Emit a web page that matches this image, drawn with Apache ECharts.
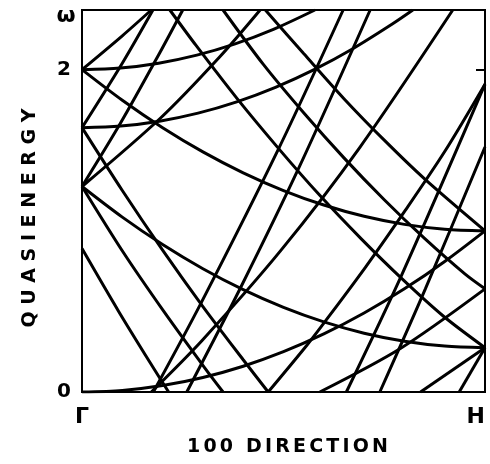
<!DOCTYPE html>
<html>
<head>
<meta charset="utf-8">
<script src="https://cdn.jsdelivr.net/npm/echarts@6/dist/echarts.min.js"></script>
<style>html,body{margin:0;padding:0;background:#fff}#c{width:490px;height:464px}</style>
</head>
<body>
<div id="c"></div>
<script>
// Axis / labels
const xTickLabels = ['Γ', 'H'];
const yTickLabels = ['0', '2'];
const yTopLabel = 'ω';
const omega = 2.37;           // quasienergy period (top of the box)
const xTitle = '100 DIRECTION';
const yTitle = 'QUASIENERGY';
const spaced = s => s.split('').join('\u2006');

// Folded band segments [k, quasienergy]
const bandA  = [[0,0],[0.1,0.01],[0.2,0.04],[0.3,0.09],[0.4,0.16],[0.5,0.25],[0.6,0.36],[0.7,0.49],[0.8,0.64],[0.9,0.81],[1,1]];
const bandB  = [[0,2],[0.1,1.81],[0.2,1.64],[0.3,1.49],[0.4,1.36],[0.5,1.25],[0.6,1.16],[0.7,1.09],[0.8,1.04],[0.9,1.01],[1,1]];
const bandC0 = [[0,2],[0.1,2.21],[0.172,2.37]];
const bandC1 = [[0.172,0],[0.298,0.32],[0.494,0.88],[0.69,1.52],[0.92,2.37]];
const bandC2 = [[0.936,0],[1,0.275]];
const bandD0 = [[0,2],[0.095,2.01],[0.19,2.04],[0.285,2.09],[0.38,2.16],[0.475,2.25],[0.578,2.37]];
const bandD1 = [[0.59,0],[0.79,0.27],[1,0.64]];
const bandE1 = [[0,1.64],[0.1,1.25],[0.2,0.88],[0.3,0.53],[0.4,0.2],[0.462,0]];
const bandE0 = [[0.455,2.37],[0.55,2.1],[0.65,1.82],[0.75,1.5625],[0.85,1.3225],[1,1]];
const bandF1 = [[0,1.64],[0.1,2.04],[0.176,2.37]];
const bandF2 = [[0.177,0],[0.295,0.55],[0.488,1.51],[0.648,2.37]];
const bandF3 = [[0.656,0],[0.794,0.73],[1,1.91]];
const bandG1 = [[0,1.64],[0.096,1.65],[0.192,1.68],[0.288,1.73],[0.384,1.8],[0.48,1.89],[0.576,2.0],[0.672,2.13],[0.768,2.28],[0.821,2.37]];
const bandG2 = [[0.84,0],[1,0.275]];
const bandH2 = [[0,1.275],[0.1015,0.87],[0.203,0.5],[0.3045,0.15],[0.35,0]];
const bandH1 = [[0.35,2.37],[0.45,2.0325],[0.55,1.7325],[0.65,1.4525],[0.75,1.1925],[0.85,0.9525],[0.95,0.7325],[1,0.64]];
const bandI2 = [[0,1.275],[0.096,1.67],[0.192,2.1],[0.25,2.37]];
const bandI3 = [[0.26,0],[0.394,0.65],[0.538,1.39],[0.715,2.37]];
const bandI4 = [[0.739,0],[0.852,0.64],[1,1.52]];
const bandJ  = [[0,1.275],[0.1,1.085],[0.2,0.915],[0.3,0.765],[0.4,0.635],[0.5,0.525],[0.6,0.435],[0.7,0.365],[0.8,0.315],[0.9,0.285],[1,0.275]];
const bandK2 = [[0,1.275],[0.195,1.7],[0.342,2.08],[0.442,2.37]];
const bandK3 = [[0.462,0],[0.558,0.29],[0.607,0.45],[0.705,0.78],[0.803,1.13],[0.902,1.5],[1,1.91]];
const bandL3 = [[0,0.89],[0.091,0.5],[0.182,0.13],[0.215,0]];
const bandL2 = [[0.218,2.37],[0.283,2.15],[0.385,1.82],[0.488,1.51],[0.59,1.22],[0.693,0.95],[0.795,0.7],[0.897,0.47],[1,0.275]];

const segments = [bandA,bandB,bandC0,bandC1,bandC2,bandD0,bandD1,bandE1,bandE0,
  bandF1,bandF2,bandF3,bandG1,bandG2,bandH2,bandH1,bandI2,bandI3,bandI4,bandJ,
  bandK2,bandK3,bandL3,bandL2];

const chart = echarts.init(document.getElementById('c'), null, {renderer:'canvas'});
const font = 'DejaVu Sans';
const option = {
  backgroundColor: '#fff',
  animation: false,
  grid: {left: 82, right: 5, top: 10, bottom: 72, show: true, borderColor: '#000', borderWidth: 2},
  xAxis: {
    type: 'value', min: 0, max: 1, interval: 1,
    axisLine: {show: true, lineStyle: {color: '#000', width: 2}},
    axisTick: {show: false},
    splitLine: {show: false},
    axisLabel: {
      color: '#000', fontFamily: font, fontSize: 22, fontWeight: 'bold', margin: 14,
      alignMaxLabel: 'right',
      formatter: v => (v === 0 ? xTickLabels[0] : (v === 1 ? xTickLabels[1] : ''))
    },
    name: spaced(xTitle), nameLocation: 'middle', nameGap: 46,
    nameTextStyle: {color: '#000', fontFamily: font, fontSize: 19, fontWeight: 'bold', padding: [0, 0, 0, 8]}
  },
  yAxis: [{
    type: 'value', min: 0, max: omega, interval: 2,
    axisLine: {show: true, lineStyle: {color: '#000', width: 2}},
    axisTick: {show: false},
    splitLine: {show: false},
    axisLabel: {
      color: '#000', fontFamily: font, fontSize: 20, fontWeight: 'bold', margin: 11,
      showMaxLabel: false,
      formatter: v => (v === 0 ? yTickLabels[0] : (v === 2 ? yTickLabels[1] : ''))
    }
  }, {
    type: 'value', min: 0, max: omega, interval: 2, position: 'right',
    axisLine: {show: true, lineStyle: {color: '#000', width: 2}},
    axisTick: {show: true, inside: true, length: 9, lineStyle: {color: '#000', width: 2}},
    axisLabel: {show: false},
    splitLine: {show: false}
  }],
  graphic: [{
    type: 'text', x: 30, y: 218, rotation: Math.PI / 2,
    style: {text: yTitle.split('').join(' '), fill: '#000', font: 'bold 19px "DejaVu Sans"', align: 'center', verticalAlign: 'middle'}
  }, {
    type: 'text', x: 66, y: 16,
    style: {text: yTopLabel, fill: '#000', font: 'bold 22px "DejaVu Sans"', align: 'center', verticalAlign: 'middle'}
  }],
  series: segments.map(seg => ({
    type: 'line', data: seg, smooth: 0.3, symbol: 'none', silent: true,
    yAxisIndex: 0,
    lineStyle: {color: '#000', width: 3}
  }))
};
chart.setOption(option);
</script>
</body>
</html>
